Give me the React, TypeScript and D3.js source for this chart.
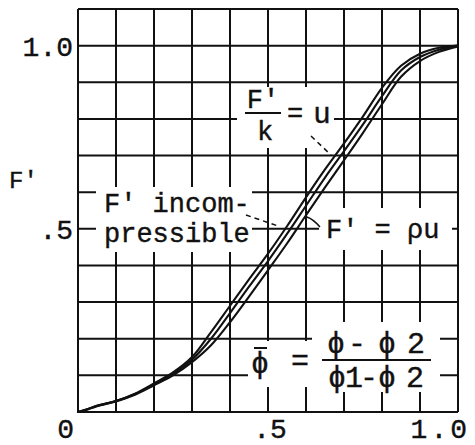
import React from "react";
import * as d3 from "d3";

// Normalized concentration φ̄ along the mixing layer
const phiBar = [0, 0.02, 0.05, 0.1, 0.15, 0.2, 0.25, 0.3, 0.35, 0.4, 0.45, 0.5, 0.55, 0.6, 0.65, 0.7, 0.75, 0.8, 0.85, 0.9, 0.95, 1.0];

// F' profiles for the three assumptions
const fIncompressible = [0, 0.006, 0.017, 0.03, 0.05, 0.078, 0.108, 0.15, 0.218, 0.29, 0.362, 0.432, 0.507, 0.586, 0.662, 0.733, 0.807, 0.885, 0.945, 0.978, 0.994, 1.0];
const fOverK = [0, 0.006, 0.017, 0.03, 0.049, 0.076, 0.104, 0.143, 0.2, 0.27, 0.342, 0.412, 0.486, 0.563, 0.64, 0.712, 0.785, 0.862, 0.932, 0.969, 0.989, 1.0];
const fRhoU = [0, 0.005, 0.016, 0.029, 0.047, 0.073, 0.1, 0.136, 0.182, 0.245, 0.315, 0.387, 0.46, 0.537, 0.613, 0.687, 0.762, 0.84, 0.915, 0.958, 0.983, 0.998];

const xTickValues = [0, 0.5, 1.0];
const xTickLabels = ["0", ".5", "1.0"];
const yTickValues = [0.5, 1.0];
const yTickLabels = [".5", "1.0"];

const FONT = "'Liberation Mono', 'DejaVu Sans Mono', monospace";
const INK = "#111";

export default function App() {
  const x = d3.scaleLinear().domain([0, 1]).range([78, 458]);
  const y = d3.scaleLinear().domain([0, 1.1]).range([412, 9]);

  const gridX = d3.range(0, 1.0001, 0.1);
  const gridY = d3.range(0, 1.1001, 0.1);

  const line = d3
    .line<number>()
    .x((_, i) => x(phiBar[i]))
    .y((d) => y(d))
    .curve(d3.curveCatmullRom.alpha(0.5));

  const curves = [fIncompressible, fOverK, fRhoU];

  const txt = { fontFamily: FONT, fill: INK, stroke: INK, strokeWidth: 0.4 } as const;

  // x tick label placement (anchor, nudge)
  const xLabelPos: [string, number][] = [
    ["end", -4],
    ["middle", 2],
    ["end", 12],
  ];

  return (
    <svg
      width={475}
      height={445}
      style={{ position: "absolute", left: 0, top: 0, background: "#fff" }}
    >
      <rect width={475} height={445} fill="#fff" />
      {/* grid and frame */}
      <g stroke={INK} strokeWidth={2}>
        {gridX.map((v, i) => (
          <line key={"gx" + i} x1={x(v)} x2={x(v)} y1={y(0)} y2={y(1.1)} />
        ))}
        {gridY.map((v, i) => (
          <line key={"gy" + i} x1={x(0)} x2={x(1)} y1={y(v)} y2={y(v)} />
        ))}
      </g>

      {/* curves */}
      <g fill="none" stroke={INK} strokeWidth={2.1} strokeLinecap="round">
        {curves.map((c, i) => (
          <path key={"c" + i} d={line(c) ?? ""} />
        ))}
      </g>

      {/* label backgrounds */}
      <g fill="#fff">
        <rect x={96} y={187} width={156} height={65} />
        <rect x={237} y={87} width={97} height={61} />
        <rect x={319} y={208} width={133} height={42} />
        <rect x={248} y={341} width={64} height={46} />
        <rect x={312} y={322} width={128} height={70} />
      </g>

      {/* leaders */}
      <g fill="none" stroke={INK} strokeWidth={1.5}>
        <line x1={246} y1={215} x2={278} y2={226} strokeDasharray="5 4" />
        <path d="M 320 227 Q 313 219 307 217" />
        <line x1={311} y1={136} x2={331} y2={155} strokeDasharray="5 4" />
      </g>

      {/* axis labels */}
      {yTickValues.map((v, i) => (
        <text key={"yl" + i} x={73} y={y(v) + 10} textAnchor="end" fontSize={28} {...txt}>
          {yTickLabels[i]}
        </text>
      ))}
      {xTickValues.map((v, i) => (
        <text
          key={"xl" + i}
          x={x(v) + xLabelPos[i][1]}
          y={438}
          textAnchor={xLabelPos[i][0] as any}
          fontSize={28}
          letterSpacing={i === 2 ? 3 : 0}
          {...txt}
        >
          {xTickLabels[i]}
        </text>
      ))}
      <text x={9} y={188} fontSize={24} {...txt}>F'</text>

      {/* curve labels */}
      <text x={104} y={212} fontSize={27} {...txt}>F' incom-</text>
      <text x={104} y={242} fontSize={27} {...txt}>pressible</text>

      <text x={263} y={108} textAnchor="middle" fontSize={27} {...txt}>F'</text>
      <line x1={245} x2={281} y1={113} y2={113} stroke={INK} strokeWidth={2} />
      <text x={265} y={140} textAnchor="middle" fontSize={27} {...txt}>k</text>
      <text x={295} y={122} textAnchor="middle" fontSize={27} {...txt}>=</text>
      <text x={322} y={123} textAnchor="middle" fontSize={29} {...txt}>u</text>

      <text x={326} y={238} fontSize={27} {...txt}>F' = ρu</text>

      <text x={260} y={373} textAnchor="middle" fontSize={30} {...txt}>ϕ</text>
      <line x1={254} x2={267} y1={348} y2={348} stroke={INK} strokeWidth={2} />
      <text x={300} y={370} textAnchor="middle" fontSize={30} {...txt}>=</text>
      <text x="336 357 387 416" y={353} textAnchor="middle" fontSize={30} {...txt}>ϕ-ϕ2</text>
      <line x1={322} x2={431} y1={360} y2={360} stroke={INK} strokeWidth={2} />
      <text x="337 354 369 387 415" y={387} textAnchor="middle" fontSize={30} {...txt}>ϕ1-ϕ2</text>
    </svg>
  );
}
